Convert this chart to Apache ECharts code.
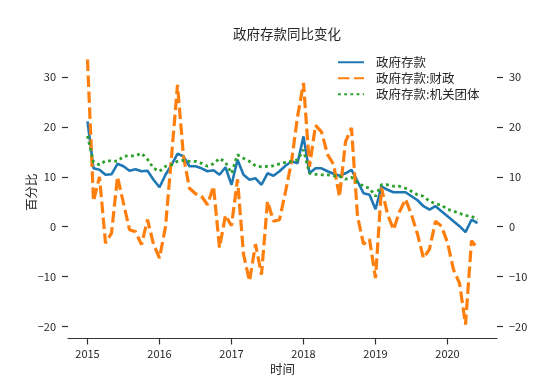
<!DOCTYPE html>
<html><head><meta charset="utf-8">
<script src="https://cdn.jsdelivr.net/npm/echarts@6/dist/echarts.min.js"></script>
<style>html,body{margin:0;padding:0;background:#fff}#c{width:553px;height:381px}</style>
</head><body><div id="c"></div>
<script>
// monthly categories, 2015-01 .. 2020-06
const months = [];
for (let y = 2015; y <= 2020; y++) {
  for (let m = 1; m <= 12; m++) {
    if (y === 2020 && m > 6) break;
    months.push(y + '-' + String(m).padStart(2, '0'));
  }
}
const xTickLabels = ['2015', '2016', '2017', '2018', '2019', '2020'];
const yTicks = [-20, -10, 0, 10, 20, 30];

const seriesNames = ['政府存款', '政府存款:财政', '政府存款:机关团体'];

const govDeposit = [
  21.1, 11.7, 11.4, 10.4, 10.5, 12.6, 12.1, 11.2, 11.5, 11.1, 11.2, 9.4,
  7.9, 10.4, 12.4, 14.6, 14.1, 12.1, 12.1, 11.7, 11.1, 11.3, 10.4, 11.9,
  8.4, 13.4, 10.4, 9.4, 9.7, 8.4, 10.7, 10.2, 11.1, 12.2, 13.1, 12.7,
  18.1, 10.7, 11.7, 11.7, 11.1, 10.6, 10.2, 10.7, 11.4, 9.1, 6.7, 6.4,
  3.5, 8.1, 7.4, 6.9, 6.9, 6.9, 6.1, 5.3, 4.1, 3.4, 4.1, 3.1,
  2.1, 1.1, 0.1, -1.1, 1.4, 0.7
];
const fiscalDeposit = [
  33.5, 5.1, 10.0, -3.3, -1.3, 10.0, 4.7, -0.6, -1.0, -3.6, 1.4, -3.5,
  -6.3, 0.0, 14.0, 28.4, 14.0, 7.7, 6.6, 6.1, 4.4, 8.1, -4.2, 2.3,
  0.2, 9.5, -5.5, -10.9, -3.5, -9.6, 5.1, 1.1, 1.4, 7.0, 13.0, 22.0,
  28.8, 12.0, 20.3, 19.0, 14.5, 12.5, 6.0, 17.0, 19.8, 2.1, -3.5, -2.5,
  -10.3, 7.8, 2.5, -0.6, 3.0, 5.5, 2.4, -1.5, -6.3, -4.5, 1.1, 0.1,
  -3.2, -8.6, -11.3, -19.6, -2.8, -4.3
];
const orgDeposit = [
  18.2, 12.9, 12.4, 13.2, 13.2, 13.1, 14.1, 14.2, 14.2, 14.7, 13.5, 11.7,
  11.1, 12.1, 12.4, 13.1, 13.3, 13.1, 13.1, 12.7, 12.1, 12.6, 13.7, 12.9,
  10.7, 14.4, 13.7, 13.1, 12.2, 12.0, 12.1, 12.2, 12.6, 12.9, 13.1, 13.4,
  15.4, 10.7, 10.5, 10.4, 10.4, 10.2, 10.1, 9.5, 9.9, 8.9, 8.1, 7.7,
  6.1, 8.4, 8.4, 8.1, 8.1, 7.7, 7.1, 6.4, 6.1, 5.1, 4.6, 4.3,
  3.5, 3.1, 2.7, 2.2, 2.1, 1.4
];

const FONT = '"Noto Sans CJK SC", "DejaVu Sans", sans-serif';
const TXT = '#262626';
const xTickPos = xTickLabels.map(y => months.indexOf(y + '-01'));
const pad = (months.length - 1) * 0.05;
const xMin = -pad, xMax = months.length - 1 + pad;
const yMin = -22.4, yMax = 36.2;
const fmtY = v => (v < 0 ? '\u2212' + Math.abs(v) : String(v));

function yAx(pos) {
  return {
    type: 'value', position: pos, min: yMin, max: yMax,
    axisLine: { show: false, onZero: false },
    axisTick: { show: true, customValues: yTicks, length: 6, lineStyle: { color: '#333', width: 1.2 } },
    axisLabel: { customValues: yTicks, formatter: fmtY, color: TXT, fontSize: 11, fontFamily: FONT, margin: 12 },
    splitLine: { show: false }
  };
}
const yLeft = yAx('left');
yLeft.name = '百分比';
yLeft.nameLocation = 'middle';
yLeft.nameGap = 30;
yLeft.nameMoveOverlap = false;
yLeft.nameTextStyle = { color: TXT, fontSize: 12.5, fontFamily: FONT };
const yRight = yAx('right');

const toPts = arr => months.map((m, i) => [i, arr[i]]);

const option = {
  animation: false,
  backgroundColor: '#fff',
  title: {
    text: '政府存款同比变化', left: 282, top: 22, textAlign: 'center',
    textStyle: { color: TXT, fontSize: 13.5, fontWeight: 'normal', fontFamily: FONT }
  },
  legend: {
    orient: 'vertical', left: 337, top: 56, padding: 0, itemWidth: 26, itemHeight: 14, itemGap: 3.5,
    itemStyle: { opacity: 0 },
    textStyle: { color: TXT, fontSize: 12.5, fontFamily: FONT, padding: [0, 0, 0, 7] },
    data: seriesNames
  },
  grid: { left: 68, right: 56, top: 46, bottom: 42 },
  xAxis: {
    type: 'value', min: xMin, max: xMax,
    axisLine: { show: true, onZero: false, lineStyle: { color: '#333', width: 1.2 } },
    axisTick: { show: true, customValues: xTickPos, length: 6, lineStyle: { color: '#333', width: 1.2 } },
    axisLabel: { customValues: xTickPos, formatter: v => xTickLabels[xTickPos.indexOf(v)], color: TXT, fontSize: 11, fontFamily: FONT, margin: 10 },
    splitLine: { show: false },
    name: '时间', nameLocation: 'middle', nameGap: 25, nameMoveOverlap: false,
    nameTextStyle: { color: TXT, fontSize: 12.5, fontFamily: FONT }
  },
  yAxis: [yLeft, yRight],
  series: [
    { name: seriesNames[0], type: 'line', symbol: 'none', data: toPts(govDeposit),
      itemStyle: { color: '#1f77b4' }, lineStyle: { color: '#1f77b4', width: 2.6 } },
    { name: seriesNames[1], type: 'line', symbol: 'none', data: toPts(fiscalDeposit),
      itemStyle: { color: '#ff7f0e' }, lineStyle: { color: '#ff7f0e', width: 3.2, type: [11.5, 4.5] } },
    { name: seriesNames[2], type: 'line', symbol: 'none', data: toPts(orgDeposit),
      itemStyle: { color: '#2ca02c' }, lineStyle: { color: '#2ca02c', width: 2.8, type: [2.8, 3.4] } }
  ]
};
const chart = echarts.init(document.getElementById('c'), null, { renderer: 'canvas' });
chart.setOption(option);
</script></body></html>
